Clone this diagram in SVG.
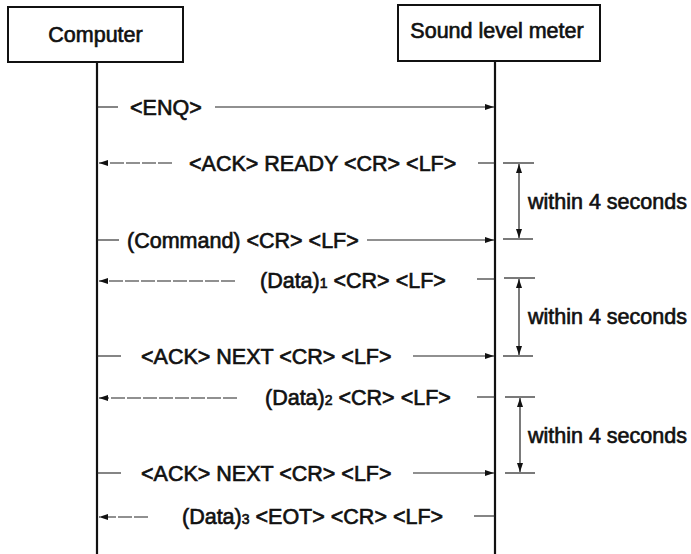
<svg xmlns="http://www.w3.org/2000/svg" width="691" height="554" viewBox="0 0 691 554">
<style>
  text { font-family: "Liberation Sans", Arial, sans-serif; font-size: 21.5px; fill: #111; stroke: #111; stroke-width: 0.65px; }
  .sub { font-size: 14px; }
  .box { fill: #fff; stroke: #111; stroke-width: 2; }
  .life { stroke: #111; stroke-width: 2.2; fill: none; }
  .msg { stroke: #222; stroke-width: 1.1; fill: none; }
  .dash { stroke-dasharray: 14 2; }
  .tick { stroke: #222; stroke-width: 1.2; fill: none; }
</style>
<defs>
  <marker id="ah" markerUnits="userSpaceOnUse" markerWidth="10" markerHeight="8" refX="9" refY="3" orient="auto-start-reverse">
    <path d="M0,0 L9,3 L0,6 z" fill="#111"/>
  </marker>
</defs>
<rect width="691" height="554" fill="#fff"/>

<g id="computer">
  <rect class="box" x="8" y="7" width="175" height="55"/>
  <text x="95.5" y="42" text-anchor="middle">Computer</text>
  <line class="life" x1="97" y1="62" x2="97" y2="554"/>
</g>

<g id="sound-level-meter">
  <rect class="box" x="398" y="5" width="202" height="56"/>
  <text x="497" y="38" text-anchor="middle">Sound level meter</text>
  <line class="life" x1="495" y1="61" x2="495" y2="554"/>
</g>

<g id="connectors">
  <!-- ENQ -->
  <line class="msg" x1="97" y1="107" x2="118" y2="107"/>
  <line class="msg" x1="215" y1="107" x2="494" y2="107" marker-end="url(#ah)"/>
  <!-- ACK READY -->
  <line class="msg dash" x1="172" y1="163" x2="99" y2="163" marker-end="url(#ah)"/>
  <line class="msg" x1="478" y1="163" x2="495" y2="163"/>
  <!-- Command -->
  <line class="msg" x1="97" y1="240" x2="119" y2="240"/>
  <line class="msg" x1="367" y1="240" x2="494" y2="240" marker-end="url(#ah)"/>
  <!-- Data1 -->
  <line class="msg dash" x1="235" y1="281" x2="99" y2="281" marker-end="url(#ah)"/>
  <line class="msg" x1="477" y1="279" x2="495" y2="279"/>
  <!-- ACK NEXT -->
  <line class="msg" x1="97" y1="356" x2="121" y2="356"/>
  <line class="msg" x1="413" y1="356" x2="494" y2="356" marker-end="url(#ah)"/>
  <!-- Data2 -->
  <line class="msg dash" x1="237" y1="398" x2="99" y2="398" marker-end="url(#ah)"/>
  <line class="msg" x1="477" y1="397" x2="495" y2="397"/>
  <!-- ACK NEXT -->
  <line class="msg" x1="97" y1="473" x2="121" y2="473"/>
  <line class="msg" x1="413" y1="473" x2="494" y2="473" marker-end="url(#ah)"/>
  <!-- Data3 -->
  <line class="msg dash" x1="148" y1="517" x2="99" y2="517" marker-end="url(#ah)"/>
  <line class="msg" x1="474" y1="516" x2="495" y2="516"/>
</g>

<g id="message-labels">
  <text x="130" y="115">&lt;ENQ&gt;</text>
  <text x="189" y="171">&lt;ACK&gt; READY &lt;CR&gt; &lt;LF&gt;</text>
  <text x="127" y="248">(Command) &lt;CR&gt; &lt;LF&gt;</text>
  <text x="260" y="288">(Data)<tspan class="sub">1</tspan> &lt;CR&gt; &lt;LF&gt;</text>
  <text x="141" y="364">&lt;ACK&gt; NEXT &lt;CR&gt; &lt;LF&gt;</text>
  <text x="265" y="405">(Data)<tspan class="sub">2</tspan> &lt;CR&gt; &lt;LF&gt;</text>
  <text x="141" y="481">&lt;ACK&gt; NEXT &lt;CR&gt; &lt;LF&gt;</text>
  <text x="182" y="524">(Data)<tspan class="sub">3</tspan> &lt;EOT&gt; &lt;CR&gt; &lt;LF&gt;</text>
</g>

<g id="timeout-1">
  <line class="tick" x1="503" y1="163" x2="534" y2="163"/>
  <line class="tick" x1="503" y1="239" x2="533" y2="239"/>
  <line class="tick" x1="519" y1="164" x2="519" y2="238" marker-start="url(#ah)" marker-end="url(#ah)"/>
  <text x="528" y="209">within 4 seconds</text>
</g>
<g id="timeout-2">
  <line class="tick" x1="504" y1="278" x2="535" y2="278"/>
  <line class="tick" x1="503" y1="356" x2="533" y2="356"/>
  <line class="tick" x1="519" y1="279" x2="519" y2="355" marker-start="url(#ah)" marker-end="url(#ah)"/>
  <text x="528" y="324">within 4 seconds</text>
</g>
<g id="timeout-3">
  <line class="tick" x1="505" y1="397" x2="535" y2="397"/>
  <line class="tick" x1="505" y1="473" x2="535" y2="473"/>
  <line class="tick" x1="520" y1="398" x2="520" y2="472" marker-start="url(#ah)" marker-end="url(#ah)"/>
  <text x="528" y="443">within 4 seconds</text>
</g>
</svg>
